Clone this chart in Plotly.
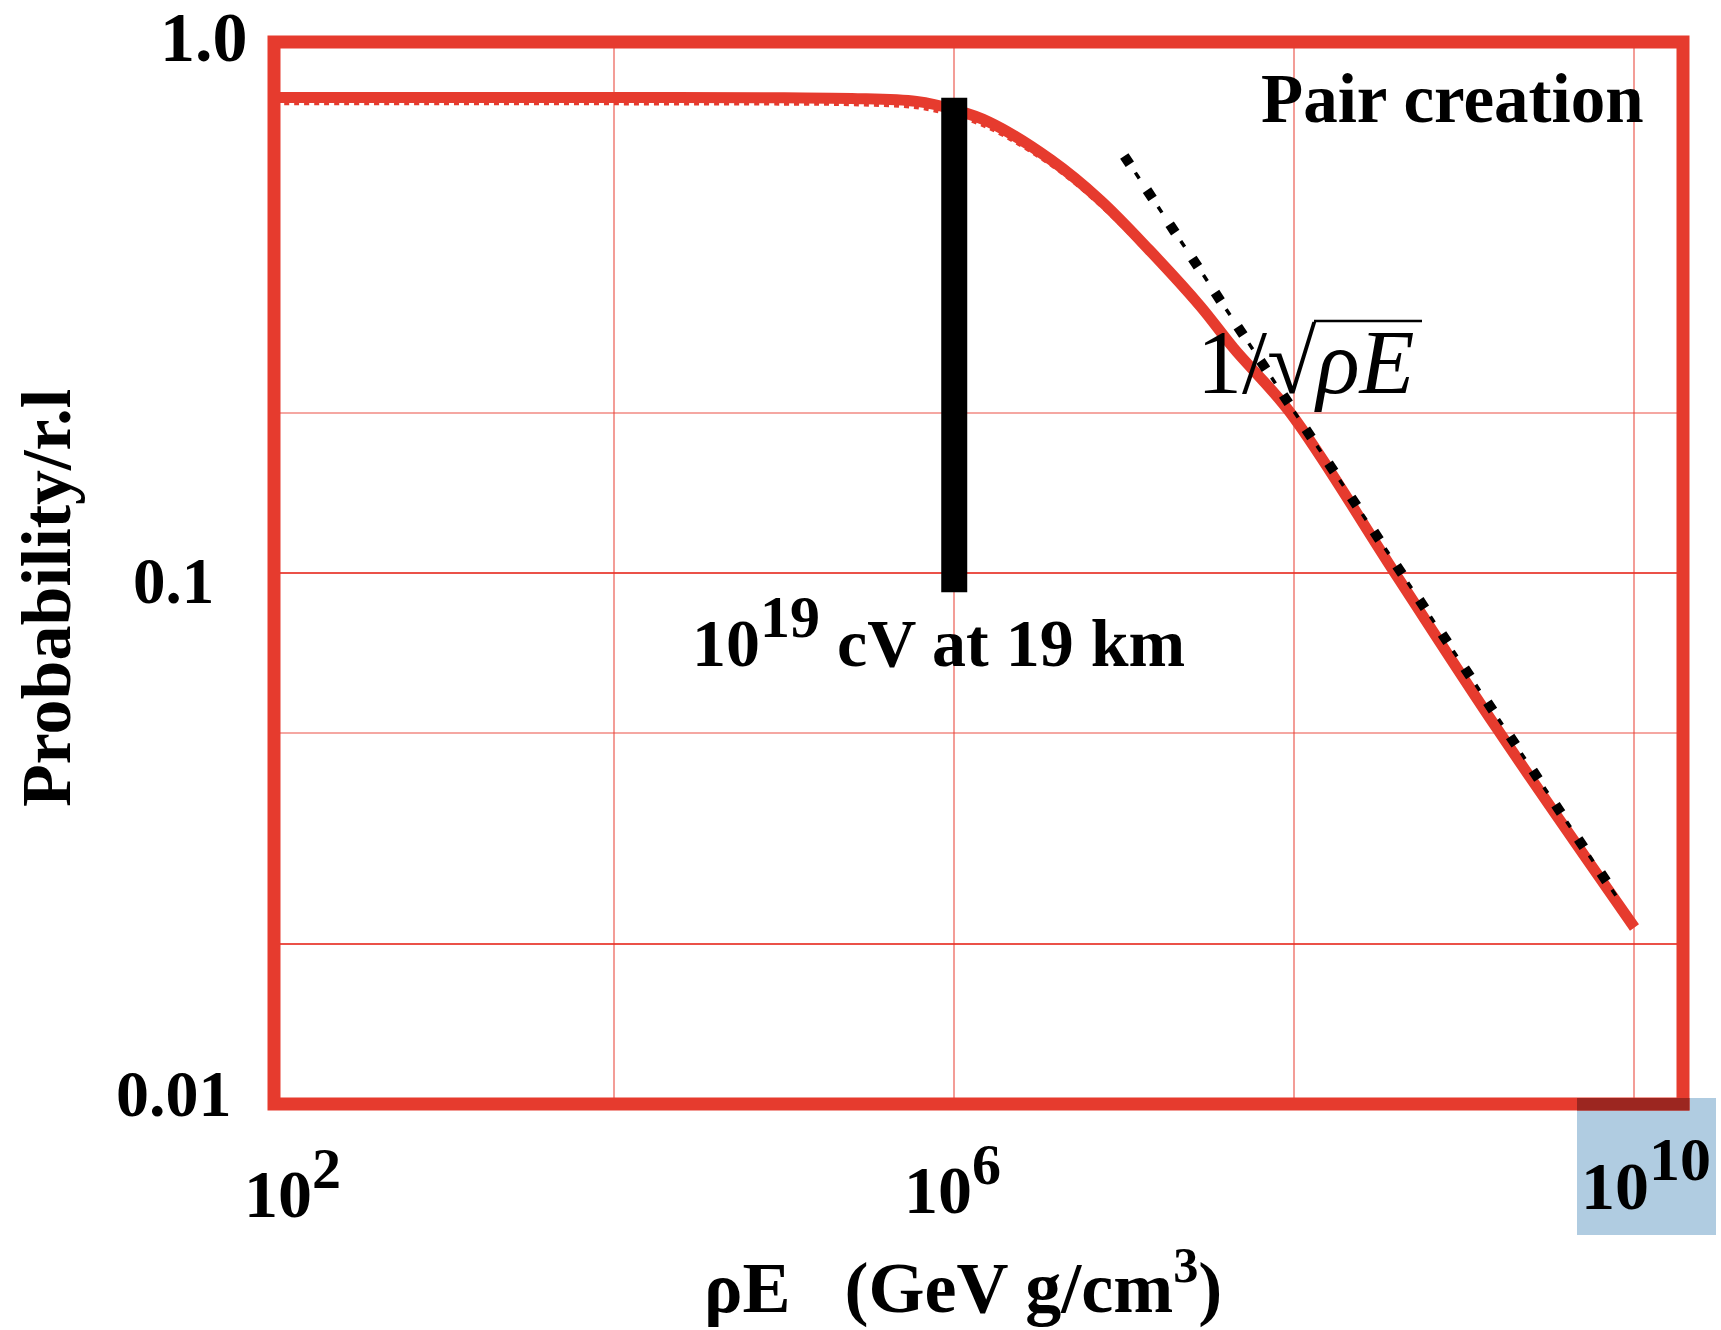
import numpy as np
import plotly.graph_objects as go

# Pair-creation probability per radiation length versus rho*E
rho_e = [1e2, 1e3, 1e4, 1e5, 2.5e5, 6e5, 1e6, 1.6e6, 3.7e6, 7.2e6, 1.4e7,
         2.8e7, 4.4e7, 9.5e7, 3.9e8, 1.55e9, 1e10]
prob = [0.786, 0.786, 0.786, 0.785, 0.783, 0.773, 0.746, 0.707, 0.600, 0.504,
        0.406, 0.318, 0.265, 0.200, 0.100, 0.051, 0.0215]
# second (dotted) evaluation of the same curve
prob_dotted = [0.768, 0.768, 0.768, 0.767, 0.765, 0.755, 0.729, 0.691, 0.589,
               0.495, 0.400, 0.313, 0.262, 0.198, 0.099, 0.0505, 0.0213]

# asymptotic 1/sqrt(rho E) reference line
asym_x = [1.0e7, 7.9e9]
asym_y = [0.61, 0.0245]

# marker for 10^19 eV at 19 km
marker_x = [1e6, 1e6]
marker_y = [0.092, 0.785]

x_grid = [1e4, 1e6, 1e8, 1e10]
y_grid_major = [0.1, 0.02]
y_grid_minor = [0.2, 0.05]
y_tick_labels = ["1.0", "0.1", "0.01"]
x_tick_labels = ["10<sup><span style='font-size:58px'>2</span></sup>",
                 "10<sup><span style='font-size:58px'>6</span></sup>",
                 "10<sup><span style='font-size:62px'>10</span></sup>"]

RED = "#E63B2E"
SERIF = "Liberation Serif"

W, H = 1721, 1330
L, R, T, B = 274, 38, 42, 226
PW, PH = W - L - R, H - T - B


def px(xp):
    return (xp - L) / PW


def py(yp):
    return (T + PH - yp) / PH


fig = go.Figure()

fig.add_trace(go.Scatter(x=rho_e, y=prob_dotted, mode="lines",
                         line=dict(color=RED, width=5, dash="dot", shape="spline"),
                         hoverinfo="skip"))
fig.add_trace(go.Scatter(x=rho_e, y=prob, mode="lines",
                         line=dict(color=RED, width=11, shape="spline"),
                         hoverinfo="skip"))
# dash-dot asymptote: heavy square dots with thin dashes between them
fig.add_trace(go.Scatter(x=asym_x, y=asym_y, mode="lines",
                         line=dict(color="black", width=10, dash="10px,31px"),
                         hoverinfo="skip"))
fig.add_trace(go.Scatter(x=asym_x, y=asym_y, mode="lines",
                         line=dict(color="black", width=3.5, dash="0px,20px,7px,14px"),
                         hoverinfo="skip"))
fig.add_trace(go.Scatter(x=marker_x, y=marker_y, mode="lines",
                         line=dict(color="black", width=26),
                         hoverinfo="skip"))

shapes = [
    # highlight box behind the 10^10 label
    dict(type="rect", xref="paper", yref="paper", x0=px(1577), x1=px(1716),
         y0=py(1235), y1=py(1098), fillcolor="#B0CCE1", line=dict(width=0),
         layer="above"),
    # plot frame
    dict(type="rect", xref="paper", yref="paper", x0=0, x1=1, y0=0, y1=1,
         line=dict(color=RED, width=13), layer="above"),
    # darkened frame where the box overlaps it
    dict(type="rect", xref="paper", yref="paper", x0=px(1577), x1=px(1689.5),
         y0=py(1110.5), y1=py(1098), fillcolor="#9C2620", line=dict(width=0),
         layer="above"),
    # vinculum of the square root in 1/sqrt(rho E)
    dict(type="line", xref="paper", yref="paper", x0=px(1314), x1=px(1422),
         y0=py(321), y1=py(321), line=dict(color="black", width=2.5),
         layer="above"),
]

annotations = []
bold = dict(family=SERIF, color="black", weight="bold")

# y tick labels
for txt, xr, yc, sz in [(y_tick_labels[0], 250, 38, 70),
                        (y_tick_labels[1], 216, 581, 65),
                        (y_tick_labels[2], 234, 1093, 66)]:
    annotations.append(dict(text=txt, xref="paper", yref="paper", x=px(xr), y=py(yc),
                            xanchor="right", yanchor="middle", showarrow=False,
                            font=dict(size=sz, **bold)))

# x tick labels
for txt, xc, yc in [(x_tick_labels[0], 292, 1184), (x_tick_labels[1], 952, 1180),
                    (x_tick_labels[2], 1646, 1174)]:
    annotations.append(dict(text=txt, xref="paper", yref="paper", x=px(xc), y=py(yc),
                            xanchor="center", yanchor="middle", showarrow=False,
                            font=dict(size=68, **bold)))

# axis titles
annotations.append(dict(text="ρE\u00a0\u00a0\u00a0(GeV g/cm<sup>3</sup>)", xref="paper", yref="paper",
                        x=px(963), y=py(1282), xanchor="center", yanchor="middle",
                        showarrow=False, font=dict(size=72, **bold)))
annotations.append(dict(text="Probability/r.l", xref="paper", yref="paper",
                        x=px(46), y=py(598), xanchor="center", yanchor="middle",
                        textangle=-90, showarrow=False, font=dict(size=70, **bold)))

# in-plot labels
annotations.append(dict(text="Pair creation", xref="paper", yref="paper",
                        x=px(1646), y=py(99), xanchor="right", yanchor="middle",
                        showarrow=False, font=dict(size=69, **bold)))
annotations.append(dict(text="10<sup><span style='font-size:60px'>19</span></sup> cV at 19 km",
                        xref="paper", yref="paper",
                        x=px(938), y=py(632), xanchor="center", yanchor="middle",
                        showarrow=False, font=dict(size=68, **bold)))
annotations.append(dict(text="1/√<i>ρE</i>",
                        xref="paper", yref="paper",
                        x=px(1306), y=py(362), xanchor="center", yanchor="middle",
                        showarrow=False, font=dict(size=90, family=SERIF, color="black")))

fig.update_layout(
    width=W, height=H,
    margin=dict(l=L, r=R, t=T, b=B),
    paper_bgcolor="white", plot_bgcolor="white",
    showlegend=False,
    shapes=shapes,
    annotations=annotations,
    xaxis=dict(type="log", range=[2, 10.2853], tickmode="array", tickvals=x_grid,
               showticklabels=False, ticks="", showgrid=True,
               gridcolor="rgba(232,60,48,0.5)", gridwidth=2, zeroline=False,
               showline=False),
    yaxis=dict(type="log", range=[-2, 0], tickmode="array", tickvals=y_grid_major,
               showticklabels=False, ticks="", showgrid=True,
               gridcolor="rgba(232,50,40,0.85)", gridwidth=2, zeroline=False,
               showline=False,
               minor=dict(tickmode="array", tickvals=y_grid_minor, showgrid=True,
                          gridcolor="rgba(232,60,48,0.45)", gridwidth=2, ticks="")),
)

fig.write_html("out.html")
